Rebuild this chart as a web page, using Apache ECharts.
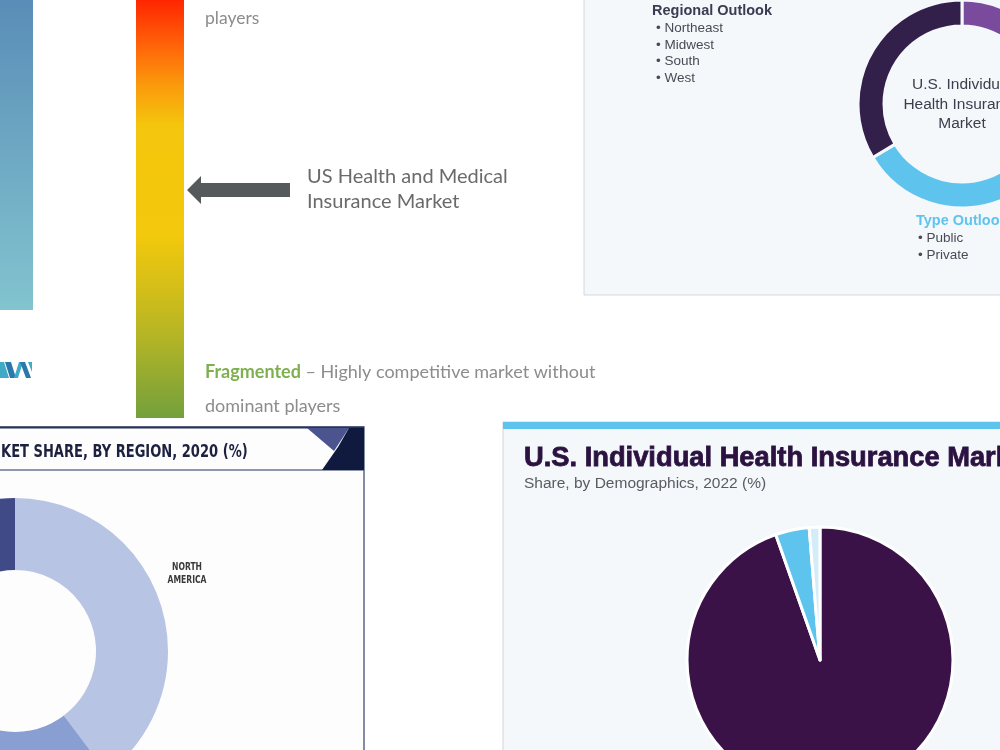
<!DOCTYPE html>
<html>
<head>
<meta charset="utf-8">
<script src="https://cdn.jsdelivr.net/npm/echarts@6/dist/echarts.min.js"></script>
<style>
html,body{margin:0;padding:0;background:#fff;}
#main{width:1000px;height:750px;}
</style>
</head>
<body>
<div id="main"></div>
<script>
// donut, top right (outlook segments)
var outlookNames = ['Product Outlook', 'Type Outlook', 'Regional Outlook'];
var outlookValues = [30, 36.4, 33.6];
var outlookColors = ['#7a4a9c', '#5ec4ed', '#33204a'];
var regionalItems = ['Northeast', 'Midwest', 'South', 'West'];
var typeItems = ['Public', 'Private'];

// donut, bottom left (share by region 2020)
var regionNames = ['North America', 'Europe', 'Asia Pacific', 'Latin America', 'MEA'];
var regionValues = [39.7, 26, 18, 10, 6.3];
var regionColors = ['#b7c4e3', '#8a9fd1', '#6b7fbe', '#5361a3', '#3f4a86'];

// pie, bottom right (share by demographics 2022)
var demoNames = ['Adults', 'Minors', 'Senior Citizens'];
var demoValues = [94.6, 4.1, 1.3];
var demoColors = ['#3a1248', '#5ec4ed', '#d4ecf8'];

var chart = echarts.init(document.getElementById('main'));

function mkData(names, vals, cols){
	var arr = [];
	for(var i=0;i<names.length;i++){
		arr.push({name:names[i], value:vals[i], itemStyle:{color:cols[i]}});
	}
	return arr;
}

var g = [];
// ---- top left panel ----
g.push({type:'rect', shape:{x:0,y:0,width:33,height:310}, style:{fill:new echarts.graphic.LinearGradient(0,0,0,1,[
	{offset:0,color:'#5a8db7'},{offset:1,color:'#82c4cf'}])}});
// logo pieces
var logo = [[[0,378],[0,362],[4,362],[9,378]],[[5,362],[11,362],[16,378],[10,378]],[[14,378],[19,362],[23,362],[18,378]],[[20,362],[25,362],[31,378],[26,378]],[[28,362],[32,362],[32,372]]];
var logoCols = ['#3fa9c6','#2a78ad','#3fa9c6','#2a78ad','#3fa9c6'];
for(var i=0;i<logo.length;i++){
	g.push({type:'polygon', shape:{points:logo[i]}, style:{fill:logoCols[i]}});
}
g.push({type:'rect', shape:{x:136,y:0,width:48,height:418}, style:{fill:new echarts.graphic.LinearGradient(0,0,0,1,[
	{offset:0,color:'#ff2600'},{offset:0.12,color:'#ff6a0a'},{offset:0.21,color:'#fa9d0c'},
	{offset:0.3,color:'#f4c50d'},{offset:0.56,color:'#f3c90c'},{offset:0.68,color:'#d6bf18'},
	{offset:0.8,color:'#b6b525'},{offset:1,color:'#73a03c'}])}});
// arrow
g.push({type:'polygon', shape:{points:[[187,190],[201,176],[201,183],[290,183],[290,197],[201,197],[201,204]]}, style:{fill:'#555a5c'}});
g.push({type:'text', x:205, y:18, style:{text:'players', fill:'#8c8c8c', font:'17.5px Lato', verticalAlign:'middle'}});
g.push({type:'text', x:307, y:177, style:{text:'US Health and Medical', fill:'#6a6a6a', font:'20px Lato', verticalAlign:'middle'}});
g.push({type:'text', x:307, y:202, style:{text:'Insurance Market', fill:'#6a6a6a', font:'20px Lato', verticalAlign:'middle'}});
g.push({type:'text', x:205, y:372, style:{
	text:'{a|Fragmented} – Highly competitive market without', fill:'#8c8c8c', font:'18px Lato', verticalAlign:'middle',
	rich:{a:{fill:'#7fb04f', font:'bold 18px Lato'}}}});
g.push({type:'text', x:205, y:406, style:{text:'dominant players', fill:'#8c8c8c', font:'18px Lato', verticalAlign:'middle'}});

// ---- top right panel ----
g.push({type:'rect', z:-10, shape:{x:584,y:-2,width:420,height:297}, style:{fill:'#f4f8fb', stroke:'#d4d8dc', lineWidth:1}});
g.push({type:'text', x:652, y:11, style:{text:'Regional Outlook', fill:'#3b3b52', font:'bold 14.5px "Liberation Sans"', verticalAlign:'middle'}});
for(var i=0;i<regionalItems.length;i++){
	g.push({type:'text', x:656, y:28+i*16.8, style:{text:'• '+regionalItems[i], fill:'#4a4a55', font:'13.5px "Liberation Sans"', verticalAlign:'middle'}});
}
g.push({type:'text', x:916, y:221, style:{text:'Type Outlook', fill:'#5ec4ed', font:'bold 14.5px "Liberation Sans"', verticalAlign:'middle'}});
for(var i=0;i<typeItems.length;i++){
	g.push({type:'text', x:918, y:238+i*17, style:{text:'• '+typeItems[i], fill:'#4a4a55', font:'13.5px "Liberation Sans"', verticalAlign:'middle'}});
}
var centerLines = ['U.S. Individual', 'Health Insurance', 'Market'];
for(var i=0;i<centerLines.length;i++){
	g.push({type:'text', x:962, y:85+i*19.5, z:10, style:{text:centerLines[i], fill:'#3d3d4d', font:'15.5px "Liberation Sans"', align:'center', verticalAlign:'middle'}});
}

// ---- bottom left panel ----
g.push({type:'rect', z:-10, shape:{x:-2,y:427,width:366,height:330}, style:{fill:'#fdfdfe', stroke:'#5b6688', lineWidth:1.5}});
g.push({type:'line', shape:{x1:0,y1:470,x2:364,y2:470}, style:{stroke:'#6b7590', lineWidth:1.5}});
g.push({type:'line', shape:{x1:0,y1:427.5,x2:364,y2:427.5}, style:{stroke:'#2b3358', lineWidth:2}});
g.push({type:'polygon', shape:{points:[[307,428],[349,428],[334,451]]}, style:{fill:'#4c5490'}});
g.push({type:'polygon', shape:{points:[[349,428],[364,428],[364,470],[322,470],[338,447]]}, style:{fill:'#0f1a3e'}});
g.push({type:'text', x:1, y:452, scaleX:0.83, style:{text:'KET SHARE, BY REGION, 2020 (%)', fill:'#1c2140', font:'bold 17.5px "DejaVu Sans Condensed", "Liberation Sans Narrow", sans-serif', verticalAlign:'middle'}});
g.push({type:'text', x:187, y:567, scaleX:0.85, originX:0, style:{text:'NORTH', fill:'#3a3a3a', font:'bold 10px "DejaVu Sans Condensed", sans-serif', align:'center', verticalAlign:'middle'}});
g.push({type:'text', x:187, y:580, scaleX:0.85, originX:0, style:{text:'AMERICA', fill:'#3a3a3a', font:'bold 10px "DejaVu Sans Condensed", sans-serif', align:'center', verticalAlign:'middle'}});

// ---- bottom right panel ----
g.push({type:'rect', z:-10, shape:{x:503,y:422,width:500,height:330}, style:{fill:'#f4f8fb', stroke:'#d0d4d8', lineWidth:1}});
g.push({type:'rect', shape:{x:503,y:422,width:500,height:7}, style:{fill:'#5ec4ed'}});
g.push({type:'text', x:524, y:458, style:{text:'U.S. Individual Health Insurance Market', fill:'#2b1240', stroke:'#2b1240', lineWidth:0.8, font:'bold 27.3px "Liberation Sans"', verticalAlign:'middle'}});
g.push({type:'text', x:524, y:484, style:{text:'Share, by Demographics, 2022 (%)', fill:'#5a5a60', font:'15.5px "Liberation Sans"', verticalAlign:'middle'}});

var option = {
	animation:false,
	backgroundColor:'#ffffff',
	graphic:{elements:g},
	series:[
		{
			type:'pie', name:'outlook', center:[962,104], radius:[78,104], startAngle:90, clockwise:true,
			label:{show:false}, labelLine:{show:false}, emphasis:{disabled:true}, silent:true,
			itemStyle:{borderColor:'#f4f8fb', borderWidth:3},
			data:mkData(outlookNames, outlookValues, outlookColors)
		},
		{
			type:'pie', name:'region', center:[15,651], radius:[81,153], startAngle:90, clockwise:true,
			label:{show:false}, labelLine:{show:false}, emphasis:{disabled:true}, silent:true,
			data:mkData(regionNames, regionValues, regionColors)
		},
		{
			type:'pie', name:'demographics', center:[820,660], radius:[0,133], startAngle:90, clockwise:true,
			label:{show:false}, labelLine:{show:false}, emphasis:{disabled:true}, silent:true,
			itemStyle:{borderColor:'#ffffff', borderWidth:3},
			data:mkData(demoNames, demoValues, demoColors)
		}
	]
};
chart.setOption(option);
</script>
</body>
</html>
